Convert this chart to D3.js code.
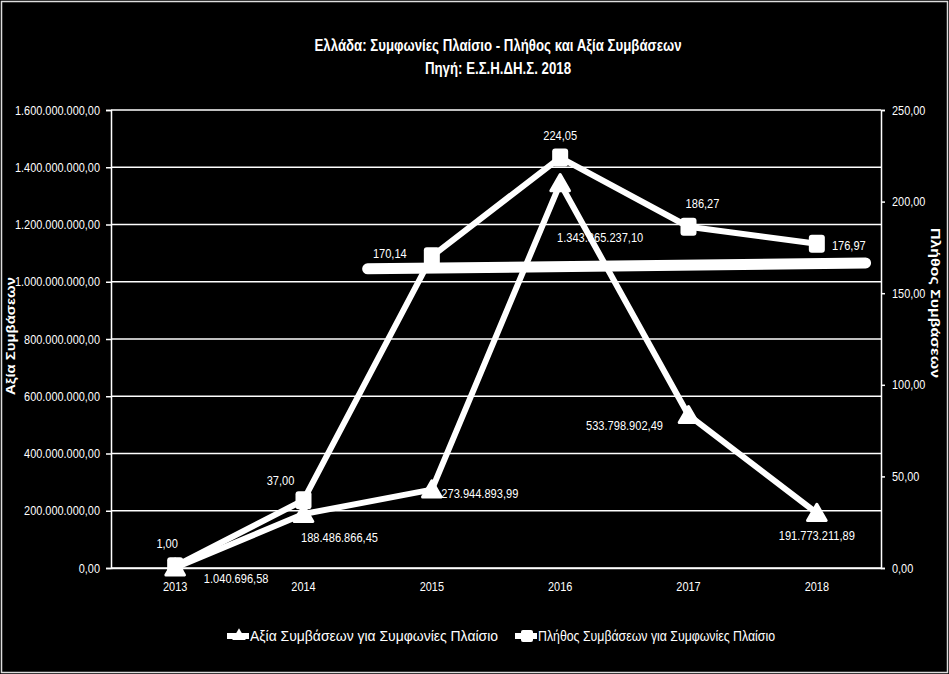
<!DOCTYPE html>
<html>
<head>
<meta charset="utf-8">
<script src="https://cdn.jsdelivr.net/npm/d3@7"></script>
<style>
  html, body { margin: 0; padding: 0; background: #000; }
  svg { display: block; }
  text { font-family: "Liberation Sans", Arial, sans-serif; fill: #fff; }
</style>
</head>
<body>
<svg id="chart" width="949" height="674"></svg>
<script>
const years = ["2013", "2014", "2015", "2016", "2017", "2018"];
const valueSeries = [1040696.58, 188486866.45, 273944893.99, 1343865237.10, 533798902.49, 191773211.89];
const countSeries = [1.00, 37.00, 170.14, 224.05, 186.27, 176.97];
const trendIndex = [1.5, 5.38];
const trendCount = [163.3, 166.5];
const leftTicks = [0, 200000000, 400000000, 600000000, 800000000, 1000000000, 1200000000, 1400000000, 1600000000];
const rightTicks = [0, 50, 100, 150, 200, 250];
const titleLines = ["Ελλάδα: Συμφωνίες Πλαίσιο - Πλήθος και Αξία Συμβάσεων", "Πηγή: Ε.Σ.Η.ΔΗ.Σ. 2018"];
const seriesNames = ["Αξία Συμβάσεων για Συμφωνίες Πλαίσιο", "Πλήθος Συμβάσεων για Συμφωνίες Πλαίσιο"];
const leftTitle = "Αξία Συμβάσεων";
const rightTitle = "Πλήθος Συμβάσεων";

// label offsets (centre of text relative to the point)
const countLabelOff = [[-8,-23],[-23,-20],[-42,-3],[0,-23],[14,-24],[32,1]];
const valueLabelOff = [[61,10],[36,23],[48,3],[40,54],[-64,10],[0,22]];

const loc = d3.formatLocale({decimal: ",", thousands: ".", grouping: [3], currency: ["", "€"]});
const fmt = loc.format(",.2f");

function squeeze(sel, k) {
  sel.each(function () {
    const L = this.getComputedTextLength();
    this.setAttribute("textLength", (L * k).toFixed(2));
    this.setAttribute("lengthAdjust", "spacingAndGlyphs");
  });
}
function fitTo(node, target) {
  node.setAttribute("textLength", target);
  node.setAttribute("lengthAdjust", "spacingAndGlyphs");
}

const svg = d3.select("#chart");
const W = 949, H = 674;
svg.append("rect").attr("width", W).attr("height", H).attr("fill", "#000");
svg.append("rect").attr("x", 1.5).attr("y", 1.5).attr("width", W - 3).attr("height", H - 3)
  .attr("fill", "none").attr("stroke", "#ddd").attr("stroke-width", 1.5);

const plot = {l: 111, r: 881, t: 110, b: 568};
const x = d3.scaleBand().domain(years).range([plot.l, plot.r]).padding(0);
const xc = d => x(d) + x.bandwidth() / 2;
const xi = d3.scaleLinear().domain([-0.5, years.length - 0.5]).range([plot.l, plot.r]);
const yL = d3.scaleLinear().domain([0, 1600000000]).range([plot.b, plot.t]);
const yR = d3.scaleLinear().domain([0, 250]).range([plot.b, plot.t]);

// title
const tt = svg.append("g").selectAll("text").data(titleLines).join("text")
  .attr("x", 498).attr("y", (d, i) => 51 + i * 23)
  .attr("text-anchor", "middle").attr("font-size", 16).attr("font-weight", "bold")
  .text(d => d);
const tk = 367 / tt.node().getComputedTextLength();
squeeze(tt, tk);

// gridlines
svg.append("g").selectAll("line").data(leftTicks).join("line")
  .attr("x1", plot.l).attr("x2", plot.r).attr("y1", d => yL(d)).attr("y2", d => yL(d))
  .attr("stroke", "#fff").attr("stroke-width", 1.5);

const gL = svg.append("g").attr("transform", `translate(${plot.l},0)`)
  .call(d3.axisLeft(yL).tickValues(leftTicks).tickSize(5).tickPadding(6).tickFormat(d => fmt(d)));
const gR = svg.append("g").attr("transform", `translate(${plot.r},0)`)
  .call(d3.axisRight(yR).tickValues(rightTicks).tickSize(4).tickPadding(7).tickFormat(d => fmt(d)));
const gB = svg.append("g").attr("transform", `translate(0,${plot.b})`)
  .call(d3.axisBottom(x).tickSize(0).tickPadding(14));
[gL, gR, gB].forEach(g => {
  g.selectAll(".domain").attr("stroke", "#fff").attr("stroke-width", 1.5);
  g.selectAll(".tick line").attr("stroke", "#fff").attr("stroke-width", 1.5);
  g.selectAll("text").attr("fill", "#fff").attr("font-size", 13)
    .attr("font-family", '"Liberation Sans", Arial, sans-serif');
  squeeze(g.selectAll("text"), 0.84);
});

// axis titles
const lt = svg.append("text").attr("transform", "translate(15,336) rotate(-90)")
  .attr("text-anchor", "middle").attr("font-size", 12.5).attr("font-weight", "bold")
  .attr("font-family", '"DejaVu Sans", sans-serif')
  .text(leftTitle);
fitTo(lt.node(), 118);
const rt = svg.append("text").attr("transform", "translate(931,303) rotate(90)")
  .attr("text-anchor", "middle").attr("font-size", 12.5).attr("font-weight", "bold")
  .attr("font-family", '"DejaVu Sans", sans-serif')
  .text(rightTitle);
fitTo(rt.node(), 150);

// data labels (drawn beneath lines)
const cl = svg.append("g").selectAll("text").data(countSeries).join("text")
  .attr("x", (d, i) => xc(years[i]) + countLabelOff[i][0])
  .attr("y", (d, i) => yR(d) + countLabelOff[i][1] + 5)
  .attr("text-anchor", "middle").attr("font-size", 13.5).text(d => fmt(d));
squeeze(cl, 0.82);
const vl = svg.append("g").selectAll("text").data(valueSeries).join("text")
  .attr("x", (d, i) => xc(years[i]) + valueLabelOff[i][0])
  .attr("y", (d, i) => yL(d) + valueLabelOff[i][1] + 5)
  .attr("text-anchor", "middle").attr("font-size", 13.5).text(d => fmt(d));
squeeze(vl, 0.82);

const lineW = 6;
svg.append("path")
  .datum(trendIndex.map((t, i) => [xi(t), yR(trendCount[i])]))
  .attr("d", d3.line()).attr("fill", "none").attr("stroke", "#fff")
  .attr("stroke-width", 11).attr("stroke-linecap", "round");

svg.append("path").datum(valueSeries)
  .attr("d", d3.line().x((d, i) => xc(years[i])).y(d => yL(d)))
  .attr("fill", "none").attr("stroke", "#fff").attr("stroke-width", lineW).attr("stroke-linejoin", "round");
svg.append("path").datum(countSeries)
  .attr("d", d3.line().x((d, i) => xc(years[i])).y(d => yR(d)))
  .attr("fill", "none").attr("stroke", "#fff").attr("stroke-width", lineW).attr("stroke-linejoin", "round");

const tri = d3.symbol().type(d3.symbolTriangle).size(150);
svg.append("g").selectAll("path").data(valueSeries).join("path")
  .attr("d", tri)
  .attr("transform", (d, i) => `translate(${xc(years[i])},${yL(d) + 2})`)
  .attr("fill", "#fff").attr("stroke", "#fff").attr("stroke-width", 3).attr("stroke-linejoin", "round");
svg.append("g").selectAll("rect").data(countSeries).join("rect")
  .attr("x", (d, i) => xc(years[i]) - 8).attr("y", d => yR(d) - 9)
  .attr("width", 16).attr("height", 18).attr("rx", 3)
  .attr("fill", "#fff");

// legend
const legX = [227, 515];
const legTarget = [248, 237];
seriesNames.forEach((name, i) => {
  const g = svg.append("g").attr("transform", `translate(${legX[i]},636)`);
  g.append("line").attr("x1", 0).attr("x2", 22).attr("stroke", "#fff").attr("stroke-width", lineW);
  if (i === 0) {
    g.append("path").attr("d", d3.symbol().type(d3.symbolTriangle).size(80)).attr("transform", "translate(12,0)").attr("fill", "#fff");
  } else {
    g.append("rect").attr("x", 6).attr("y", -6).attr("width", 12).attr("height", 12).attr("rx", 2).attr("fill", "#fff");
  }
  const t = g.append("text").attr("x", 23).attr("y", 5).attr("font-size", 15).text(name);
  fitTo(t.node(), legTarget[i]);
});
</script>
</body>
</html>
